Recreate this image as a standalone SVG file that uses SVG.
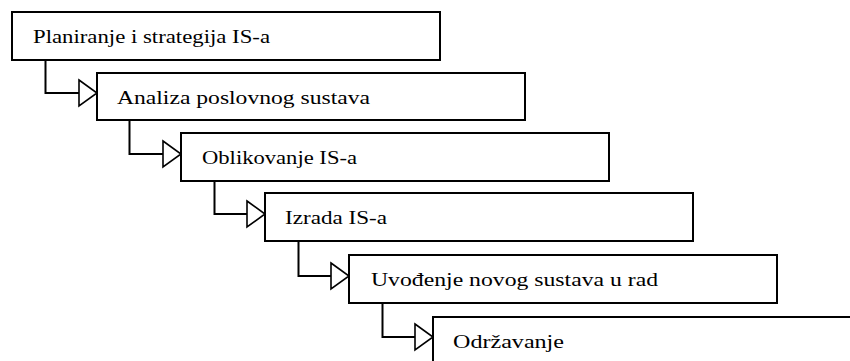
<svg xmlns="http://www.w3.org/2000/svg" width="850" height="361" viewBox="0 0 850 361">
  <defs>
    <style>
      .box { fill: #ffffff; stroke: #000000; stroke-width: 2; }
      .lbl { font-family: "Liberation Serif", "DejaVu Serif", serif; font-size: 19px; fill: #000000; }
      .wire { fill: none; stroke: #000000; stroke-width: 2; }
      .head { fill: #ffffff; stroke: #000000; stroke-width: 1.6; stroke-linejoin: miter; }
    </style>
  </defs>
  <rect width="850" height="361" fill="#ffffff"/>

  <!-- stepped connectors: down from each phase, then right into the next -->
  <g id="connectors">
    <path class="wire" d="M45.5 60 V93 H79"/>
    <polygon class="head" points="79,80 97,93 79,106"/>
    <path class="wire" d="M129.5 120 V154 H163"/>
    <polygon class="head" points="163,141 181,154 163,167"/>
    <path class="wire" d="M214.5 181 V214 H247"/>
    <polygon class="head" points="247,201 265,214 247,227"/>
    <path class="wire" d="M298.5 241 V276 H331"/>
    <polygon class="head" points="331,263 349,276 331,289"/>
    <path class="wire" d="M382.5 303 V337 H415"/>
    <polygon class="head" points="415,324 433,337 415,350"/>
  </g>

  <g id="phase-planiranje">
    <rect class="box" x="12" y="12" width="428" height="48"/>
    <text class="lbl" x="33" y="43" textLength="237" lengthAdjust="spacingAndGlyphs">Planiranje i strategija IS-a</text>
  </g>
  <g id="phase-analiza">
    <rect class="box" x="97" y="73" width="428" height="47"/>
    <text class="lbl" x="117" y="104" textLength="253" lengthAdjust="spacingAndGlyphs">Analiza poslovnog sustava</text>
  </g>
  <g id="phase-oblikovanje">
    <rect class="box" x="181" y="133" width="428" height="48"/>
    <text class="lbl" x="202" y="164" textLength="155" lengthAdjust="spacingAndGlyphs">Oblikovanje IS-a</text>
  </g>
  <g id="phase-izrada">
    <rect class="box" x="265" y="193" width="428" height="48"/>
    <text class="lbl" x="285" y="224" textLength="102" lengthAdjust="spacingAndGlyphs">Izrada IS-a</text>
  </g>
  <g id="phase-uvodenje">
    <rect class="box" x="349" y="255" width="428" height="48"/>
    <text class="lbl" x="371" y="286" textLength="287" lengthAdjust="spacingAndGlyphs">Uvođenje novog sustava u rad</text>
  </g>
  <g id="phase-odrzavanje">
    <rect class="box" x="433" y="317" width="428" height="48"/>
    <text class="lbl" x="453" y="348" textLength="111" lengthAdjust="spacingAndGlyphs">Održavanje</text>
  </g>
</svg>
